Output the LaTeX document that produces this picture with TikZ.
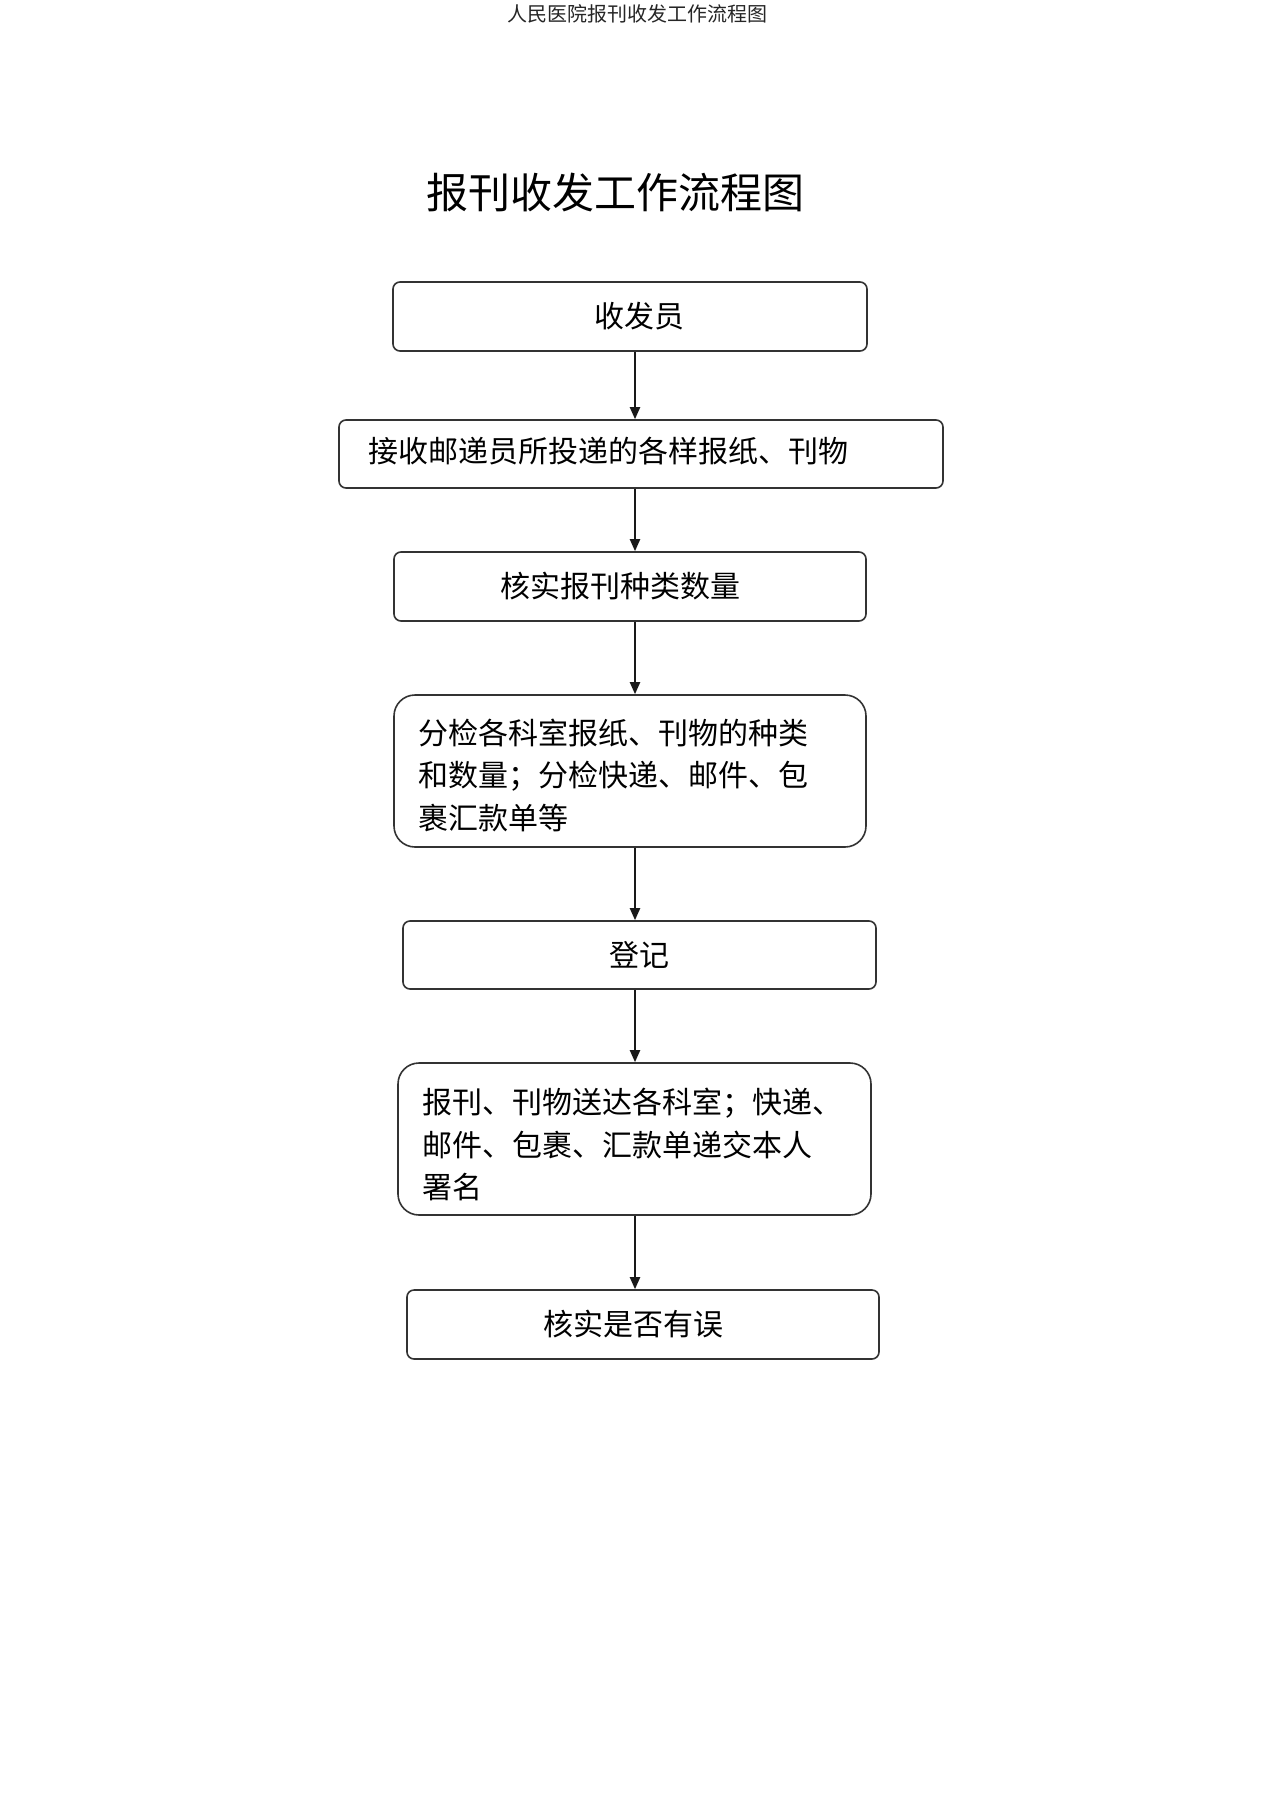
\documentclass[tikz,border=0pt]{standalone}
\usepackage{fontspec}
\newfontfamily\cjk{Noto Sans CJK SC}
\usetikzlibrary{arrows.meta}
\begin{document}
\begin{tikzpicture}[x=1pt,y=-1pt,
  box/.style={draw=black!80, line width=1.6pt, rounded corners=7pt,
    font=\cjk\fontsize{30}{42.5}\selectfont, inner sep=0pt, align=center},
  bigbox/.style={box, rounded corners=21pt, inner xsep=24pt},
  flow/.style={line width=2pt, draw=black!90, -{Triangle[width=10pt,length=12pt]}}]
\fill[white] (0,0) rectangle (1274,1804);
\useasboundingbox (0,0) rectangle (1274,1804);
\node[font=\cjk\fontsize{20}{24}\selectfont, text=black!85] (hdr) at (637,14) {人民医院报刊收发工作流程图};
\node[font=\cjk\fontsize{42}{50}\selectfont] (title) at (615,193) {报刊收发工作流程图};
\node[box, minimum width=474pt, minimum height=69pt] (b1) at (630,316.5) {\hspace{18pt}收发员};
\node[box, minimum width=604pt, minimum height=68pt, text width=546pt, align=left, inner xsep=29pt] (b2) at (641,454) {\raisebox{9pt}{接收邮递员所投递的各样报纸、刊物}};
\node[box, minimum width=472pt, minimum height=69pt] (b3) at (630,586.5) {核实报刊种类数量\hspace{20pt}};
\node[bigbox, minimum width=472pt, minimum height=152pt] (b4) at (630,771) {\vbox{\vskip 8pt\hbox{\parbox{424pt}{\raggedright 分检各科室报纸、刊物的种类\\和数量；分检快递、邮件、包\\裹汇款单等}}}};
\node[box, minimum width=473pt, minimum height=68pt] (b5) at (639.5,955) {登记};
\node[bigbox, minimum width=473pt, minimum height=152pt] (b6) at (634.5,1139) {\vbox{\vskip 11pt\hbox{\parbox{425pt}{\raggedright 报刊、刊物送达各科室；快递、\\邮件、包裹、汇款单递交本人\\署名}}}};
\node[box, minimum width=472pt, minimum height=69pt] (b7) at (643,1324.5) {核实是否有误\hspace{20pt}};
\coordinate (ax) at (635,0);
\draw[flow] (b1.south -| ax) -- (b2.north -| ax);
\draw[flow] (b2.south -| ax) -- (b3.north -| ax);
\draw[flow] (b3.south -| ax) -- (b4.north -| ax);
\draw[flow] (b4.south -| ax) -- (b5.north -| ax);
\draw[flow] (b5.south -| ax) -- (b6.north -| ax);
\draw[flow] (b6.south -| ax) -- (b7.north -| ax);
\end{tikzpicture}
\end{document}
